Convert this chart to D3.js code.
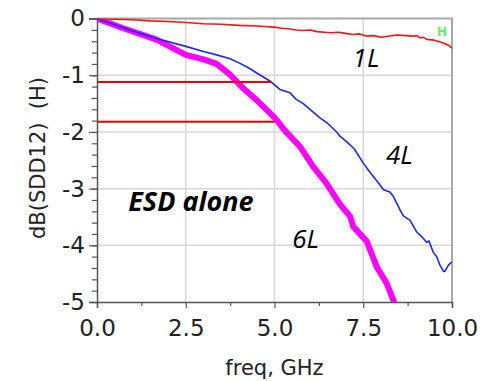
<!DOCTYPE html>
<html>
<head>
<meta charset="utf-8">
<script src="https://cdn.jsdelivr.net/npm/d3@7"></script>
<style>
  body { margin: 0; background: #fff; }
  svg { display: block; }
</style>
</head>
<body>
<svg id="chart"></svg>
<script>
// Data
const FREQ_1L = [0, 0.5, 1, 1.5, 2, 2.5, 3, 3.5, 4, 4.5, 5, 5.2, 5.4, 5.6, 5.8, 6.0, 6.2, 6.4, 6.6, 6.8, 7, 7.2, 7.4, 7.6, 7.8, 8, 8.2, 8.45, 8.7, 8.9, 9.0, 9.1, 9.2, 9.3, 9.5, 9.6, 9.75, 9.9, 10];
const DB_1L = [0, -0.01, -0.02, -0.04, -0.05, -0.07, -0.09, -0.1, -0.12, -0.13, -0.15, -0.17, -0.18, -0.2, -0.21, -0.2, -0.23, -0.24, -0.25, -0.24, -0.26, -0.28, -0.27, -0.31, -0.3, -0.33, -0.31, -0.29, -0.3, -0.31, -0.3, -0.34, -0.33, -0.37, -0.38, -0.4, -0.43, -0.47, -0.52];

const FREQ_4L = [0, 0.5, 1, 1.68, 2.5, 3, 3.37, 3.75, 4.03, 4.3, 4.5, 4.87, 5.15, 5.44, 5.6, 5.81, 6.28, 6.5, 6.75, 6.85, 7.03, 7.25, 7.5, 7.7, 7.93, 8.07, 8.25, 8.35, 8.54, 8.63, 8.82, 9.0, 9.15, 9.29, 9.35, 9.47, 9.57, 9.66, 9.76, 9.8, 9.9, 10];
const DB_4L = [0, -0.11, -0.22, -0.35, -0.49, -0.58, -0.64, -0.71, -0.79, -0.88, -0.96, -1.1, -1.25, -1.31, -1.42, -1.5, -1.75, -1.85, -2.0, -2.08, -2.17, -2.3, -2.55, -2.72, -2.9, -3.02, -3.06, -3.14, -3.38, -3.48, -3.56, -3.76, -3.85, -3.95, -3.92, -4.12, -4.2, -4.35, -4.46, -4.46, -4.35, -4.29];

const FREQ_6L = [0, 0.74, 1.68, 2.5, 3, 3.37, 3.75, 4.12, 4.5, 4.68, 5.01, 5.3, 5.72, 6.09, 6.47, 6.85, 7.13, 7.22, 7.6, 7.88, 8.16, 8.4];
const DB_6L = [0, -0.17, -0.37, -0.64, -0.72, -0.8, -0.99, -1.23, -1.44, -1.55, -1.75, -1.98, -2.26, -2.61, -2.91, -3.28, -3.49, -3.67, -3.93, -4.38, -4.67, -5.05];

// Marker lines (level, end freq)
const REF_LEVELS = [-1.12, -1.82];
const REF_ENDS = [4.92, 5.0];

const X_TICKS = [0, 2.5, 5, 7.5, 10];
const X_MINOR = [1.25, 3.75, 6.25, 8.75];
const Y_TICKS = [0, -1, -2, -3, -4, -5];
const Y_MINOR = d3.range(0, -5.0001, -0.2);

// Layout
const WIDTH = 485;
const HEIGHT = 381;
const LEFT = 97;
const RIGHT = 452;
const TOP = 18.6;
const BOTTOM = 302;

const svg = d3.select('#chart').attr('width', WIDTH).attr('height', HEIGHT);

const x = d3.scaleLinear([0, 10], [LEFT, RIGHT]);
const y = d3.scaleLinear([-5, 0], [BOTTOM, TOP]);

svg.append('defs').append('clipPath').attr('id', 'plot')
  .append('rect').attr('x', LEFT).attr('y', TOP)
  .attr('width', RIGHT - LEFT).attr('height', BOTTOM - TOP);

// Grid
svg.append('g').selectAll('line').data(X_TICKS.slice(1, -1)).join('line')
  .attr('x1', d => x(d)).attr('x2', d => x(d))
  .attr('y1', TOP).attr('y2', BOTTOM)
  .attr('stroke', '#d8d8d8').attr('stroke-width', 1.5);
svg.append('g').selectAll('line').data(Y_TICKS.slice(1, -1)).join('line')
  .attr('x1', LEFT).attr('x2', RIGHT)
  .attr('y1', d => y(d)).attr('y2', d => y(d))
  .attr('stroke', '#d8d8d8').attr('stroke-width', 1.5);

// Frame top/right
svg.append('path')
  .attr('d', `M${LEFT},${TOP}H${RIGHT}V${BOTTOM}`)
  .attr('fill', 'none').attr('stroke', '#a8a8a8').attr('stroke-width', 2);

// Axes
const xAxis = svg.append('g')
  .attr('transform', `translate(0,${BOTTOM})`)
  .call(d3.axisBottom(x).tickValues(X_TICKS).tickFormat(d3.format('.1f')).tickSize(6).tickPadding(12));
const yAxis = svg.append('g')
  .attr('transform', `translate(${LEFT},0)`)
  .call(d3.axisLeft(y).tickValues(Y_TICKS).tickFormat(d3.format('d')).tickSize(8).tickPadding(4));

svg.append('g').attr('transform', `translate(0,${BOTTOM})`)
  .call(d3.axisBottom(x).tickValues(X_MINOR).tickFormat('').tickSize(4))
  .select('.domain').remove();
svg.append('g').attr('transform', `translate(${LEFT},0)`)
  .call(d3.axisLeft(y).tickValues(Y_MINOR).tickFormat('').tickSize(5))
  .select('.domain').remove();

svg.selectAll('.domain').attr('stroke', '#555').attr('stroke-width', 1.5);
svg.selectAll('.tick line').attr('stroke', '#555').attr('stroke-width', 1.2);
svg.selectAll('.tick text')
  .attr('font-family', 'DejaVu Sans').attr('font-size', 23).attr('fill', '#222');
yAxis.selectAll('.tick text').text(d => d === 0 ? '0' : '-' + Math.abs(d));

// Axis titles
svg.append('text')
  .attr('x', (LEFT + RIGHT) / 2).attr('y', 375)
  .attr('text-anchor', 'middle')
  .attr('font-family', 'DejaVu Sans').attr('font-size', 21).attr('fill', '#222')
  .text('freq, GHz');
svg.append('text')
  .attr('transform', 'translate(45,158) rotate(-90)')
  .attr('text-anchor', 'middle')
  .attr('font-family', 'DejaVu Sans').attr('font-size', 21).attr('fill', '#222')
  .attr('xml:space', 'preserve')
  .text('dB(SDD12)  (H)');

// Series
const line = d3.line().x(d => x(d[0])).y(d => y(d[1]));
const plot = svg.append('g').attr('clip-path', 'url(#plot)');

plot.append('path')
  .datum(d3.zip(FREQ_6L, DB_6L))
  .attr('d', line).attr('fill', 'none')
  .attr('stroke', '#ff00ff').attr('stroke-width', 6).attr('stroke-linejoin', 'round');
plot.append('path')
  .datum(d3.zip(FREQ_4L, DB_4L))
  .attr('d', line).attr('fill', 'none')
  .attr('stroke', '#1a2aff').attr('stroke-width', 1.6).attr('stroke-linejoin', 'round');
plot.append('path')
  .datum(d3.zip(FREQ_1L, DB_1L))
  .attr('d', line).attr('fill', 'none')
  .attr('stroke', '#ff1010').attr('stroke-width', 1.6).attr('stroke-linejoin', 'round');

// Reference level lines
svg.append('g').selectAll('line').data(d3.zip(REF_LEVELS, REF_ENDS)).join('line')
  .attr('x1', x(0) + 1).attr('x2', d => x(d[1]))
  .attr('y1', d => y(d[0])).attr('y2', d => y(d[0]))
  .attr('stroke', '#ee0000').attr('stroke-width', 2);

// Marker
svg.append('text')
  .attr('x', x(9.72)).attr('y', y(-0.3))
  .attr('text-anchor', 'middle')
  .attr('font-family', 'DejaVu Sans').attr('font-weight', 'bold').attr('font-size', 12)
  .attr('fill', '#66ee66')
  .text('H');

// Annotations
const notes = [
  { t: '1L', f: 7.2, v: -0.85, bold: false },
  { t: '4L', f: 8.14, v: -2.57, bold: false },
  { t: '6L', f: 5.5, v: -4.05, bold: false },
  { t: 'ESD alone', f: 0.88, v: -3.4, bold: true },
];
svg.append('g').selectAll('text').data(notes).join('text')
  .attr('x', d => x(d.f)).attr('y', d => y(d.v))
  .attr('font-family', 'Open Sans').attr('font-style', 'italic')
  .attr('font-weight', d => d.bold ? 'bold' : 'normal')
  .attr('font-size', d => d.bold ? 27 : 26)
  .attr('fill', '#000')
  .text(d => d.t);
</script>
</body>
</html>
